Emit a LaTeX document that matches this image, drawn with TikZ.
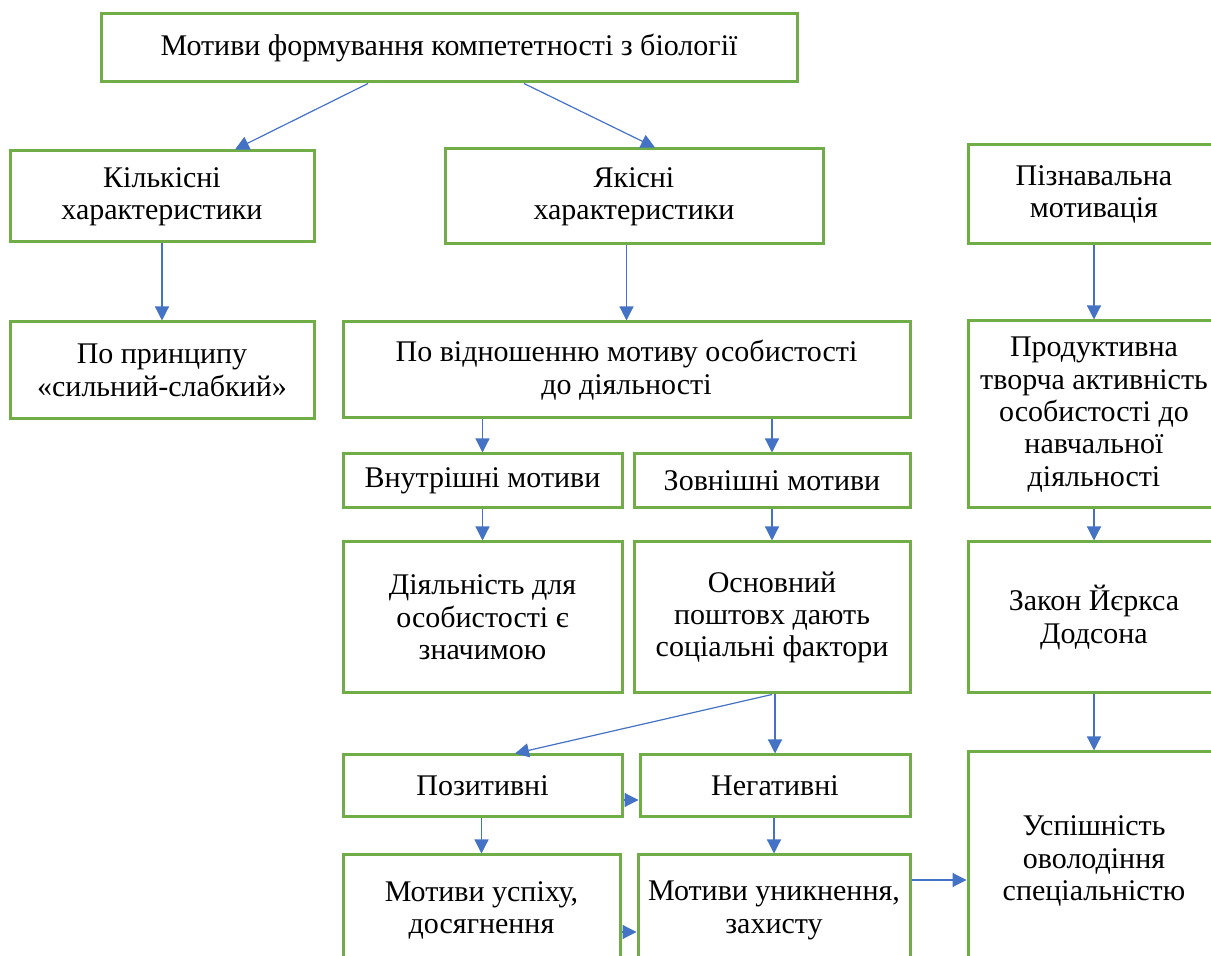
\documentclass[tikz,border=0pt]{standalone}
\usepackage{fontspec}
\setmainfont{Liberation Serif}
\usetikzlibrary{arrows.meta}
\definecolor{boxgreen}{HTML}{70AD47}
\definecolor{arrblue}{HTML}{4472C4}

\begin{document}
\begin{tikzpicture}[x=0.5pt, y=-0.5pt,
    box/.style={draw=boxgreen, line width=1.5pt, inner sep=0pt, align=center,
        font=\fontsize{15}{16.2}\selectfont},
    arr/.style={draw=arrblue, line width=0.6pt, -{Triangle[width=7pt,length=7pt]}}]

% Picture frame
\useasboundingbox (0,0) rectangle (1211,956);
\clip (0,0) rectangle (1211,956);

% Top level
\node[box, minimum width=348pt, minimum height=34pt] (top) at (449,48)
    {Мотиви формування компететності з біології};

% Second row
\node[box, minimum width=152pt, minimum height=45.5pt] (kilk) at (162,196.5)
    {Кількісні\\характеристики};
\node[box, minimum width=189pt, minimum height=47.5pt] (yak) at (634,196.5)
    {Якісні\\характеристики};
\node[box, minimum width=126pt, minimum height=49.5pt] (pizn) at (1094,194.5)
    {Пізнавальна\\мотивація};

% Third row
\node[box, minimum width=152pt, minimum height=48.5pt] (pryn) at (162,370.5)
    {По принципу\\«сильний-слабкий»};
\node[box, minimum width=283.5pt, minimum height=48pt] (vidn) at (626.5,370)
    {По відношенню мотиву особистості\\до діяльності};
\node[box, minimum width=126pt, minimum height=93.5pt] (prod) at (1094,414.5)
    {Продуктивна\\творча активність\\особистості до\\навчальної\\діяльності};

% Inner / outer motives
\node[box, minimum width=139.5pt, minimum height=27pt] (vnutr) at (482.5,481)
    {Внутрішні мотиви};
\node[box, minimum width=138pt, minimum height=27pt] (zovn) at (772,481)
    {Зовнішні мотиви};

\node[box, minimum width=139.5pt, minimum height=75.5pt] (diyal) at (482.5,617.5)
    {Діяльність для\\особистості є\\значимою};
\node[box, minimum width=138pt, minimum height=75.5pt] (osnov) at (772,617.5)
    {Основний\\поштовх дають\\соціальні фактори};
\node[box, minimum width=126pt, minimum height=75.5pt] (zakon) at (1094,617.5)
    {Закон Йєркса\\Додсона};

% Positive / negative
\node[box, minimum width=139.5pt, minimum height=31pt] (pozyt) at (482.5,786)
    {Позитивні};
\node[box, minimum width=135pt, minimum height=31pt] (negat) at (775,786)
    {Негативні};

% Bottom row
\node[box, minimum width=138.5pt, minimum height=55.5pt] (uspikh) at (481.5,910.5)
    {Мотиви успіху,\\досягнення};
\node[box, minimum width=136pt, minimum height=55.5pt] (unykn) at (774,910.5)
    {Мотиви уникнення,\\захисту};
\node[box, minimum width=126pt, minimum height=109pt] (uspish) at (1094,861)
    {Успішність\\оволодіння\\спеціальністю};

% Slanted arrows
\draw[arr] ([xshift=-40.5pt]top.south) -- ([xshift=36.5pt]kilk.north);
\draw[arr] ([xshift=37.5pt]top.south) -- ([xshift=10.5pt]yak.north);
\draw[arr] (osnov.south) -- ([xshift=16.25pt]pozyt.north);

% Vertical arrows
\foreach \a/\b in {kilk/pryn, yak/vidn, pizn/prod, prod/zakon, zakon/uspish,
                   vidn/vnutr, vidn/zovn, vnutr/diyal, zovn/osnov,
                   osnov/negat, pozyt/uspikh, negat/unykn} {
    \draw[arr] (\a.south -| \b.north) -- (\b.north);
}

% Horizontal arrows
\draw[arr] ([yshift=-7pt]pozyt.east) -- ([yshift=-7pt]pozyt.east -| negat.west);
\draw[arr] ([yshift=-10.75pt]uspikh.east) -- ([yshift=-10.75pt]uspikh.east -| unykn.west);
\draw[arr] ([yshift=15.25pt]unykn.east) -- ([yshift=15.25pt]unykn.east -| uspish.west);

\end{tikzpicture}
\end{document}
